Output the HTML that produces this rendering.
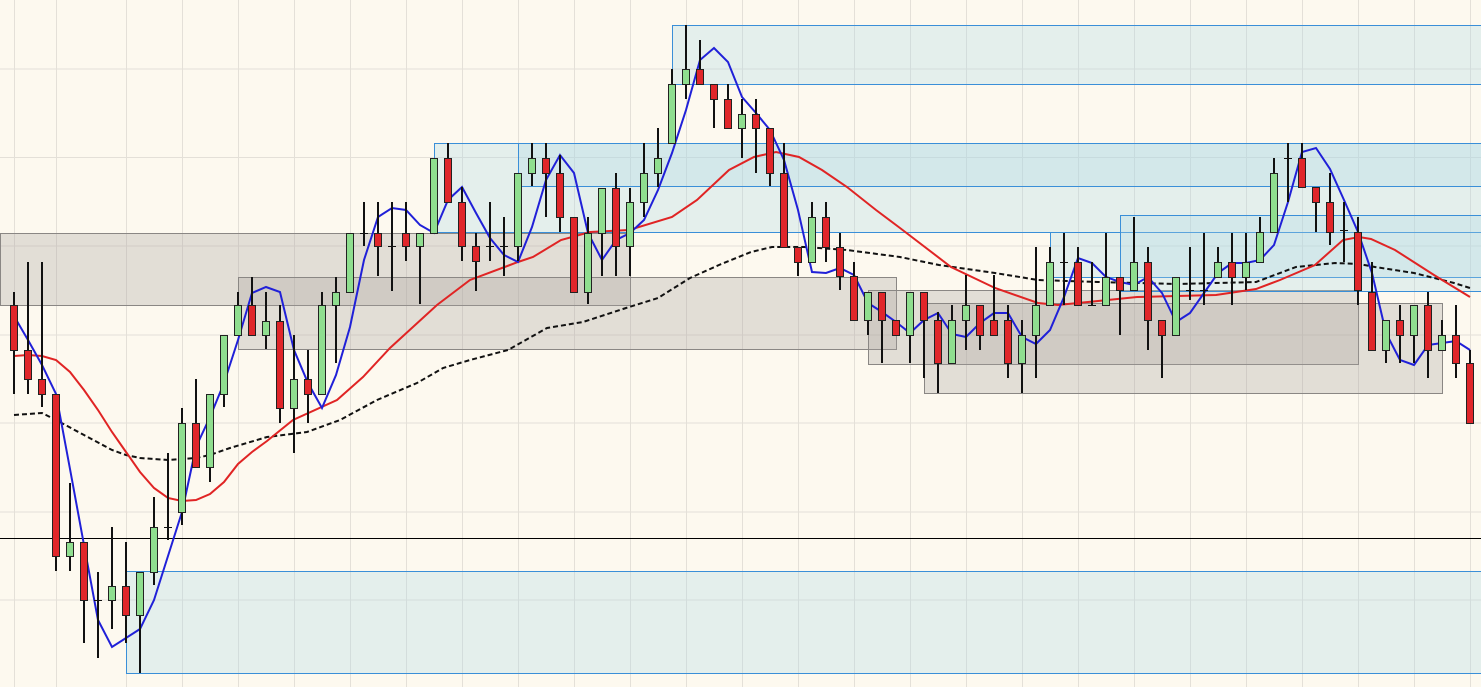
<!DOCTYPE html>
<html><head><meta charset="utf-8"><style>
html,body{margin:0;padding:0;background:#fdf9ef;}
svg{display:block;}
</style></head><body>
<svg id="c" width="1481" height="687" xmlns="http://www.w3.org/2000/svg"></svg>
<script>
const S=document.getElementById('c');let h='';
h+='<rect width="1481" height="687" fill="#fdf9ef"/>';
let vx=[14.5,56.5];for(let x=126.5;x<1481;x+=56)vx.push(x);
vx.forEach(x=>h+=`<line x1="${x}" y1="0" x2="${x}" y2="687" stroke="#e4e0d8" stroke-width="1"/>`);
[69,157.5,246,335,423,512,600].forEach(y=>h+=`<line x1="0" y1="${y}" x2="1481" y2="${y}" stroke="#e4e0d8" stroke-width="1"/>`);
[[0,233,630,305],[238,277,896,349],[868,290,1358,364],[924,303,1442,393]].forEach(b=>{
h+=`<rect x="${b[0]+.5}" y="${b[1]+.5}" width="${b[2]-b[0]}" height="${b[3]-b[1]}" fill="rgba(169,163,158,0.31)" stroke="#8a8784" stroke-width="1"/>`;});
[[126,571,1490,673],[672,25,1490,84],[434,143,1490,232],[518,143,1490,186],[1050,232,1490,277],[1120,215,1490,291]].forEach(b=>{
h+=`<rect x="${b[0]+.5}" y="${b[1]+.5}" width="${b[2]-b[0]}" height="${b[3]-b[1]}" fill="rgba(173,216,230,0.3)" stroke="#3a8fd8" stroke-width="1"/>`;});
h+='<line x1="0" y1="538.5" x2="1481" y2="538.5" stroke="#000" stroke-width="1"/>';
function pl(p,st){h+=`<polyline fill="none" points="${p.map(q=>q.join(',')).join(' ')}" ${st}/>`;}
pl([[14,415],[28,414],[42,413],[56,420],[84,435],[112,450],[126,455],[140,458],[168,460],[196,458],[210,455],[230,448],[267,437],[307,432],[340,420],[377,400],[417,383],[443,368],[470,360],[508,350],[547,328],[583,322],[626,308],[658,298],[690,278],[719,265],[751,252],[772,247],[804,247],[847,250],[900,257],[939,265],[995,273],[1038,280],[1098,282],[1177,284],[1256,282],[1296,267],[1335,263],[1359,264],[1375,267],[1414,273],[1454,283],[1470,288]],'stroke="#111" stroke-width="2" stroke-dasharray="5,3"');
pl([[14,356],[28,355],[42,356],[56,360],[70,372],[84,390],[98,410],[112,432],[126,452],[140,472],[154,488],[168,498],[182,501],[196,500],[210,494],[224,482],[238,464],[252,452],[267,441],[293,420],[337,400],[363,377],[390,348],[437,305],[470,280],[518,262],[533,257],[561,240],[590,232],[629,230],[672,217],[697,200],[729,170],[754,157],[776,152],[799,157],[822,170],[847,187],[876,210],[900,228],[951,267],[995,288],[1038,303],[1058,305],[1098,301],[1137,297],[1216,295],[1256,289],[1280,280],[1315,265],[1343,240],[1359,237],[1371,239],[1395,250],[1434,275],[1470,297]],'stroke="#e02424" stroke-width="2"');
const B=[316,340,365,394,469,545,620,647,638,629,600,556,512,447,417,383,340,293,287,292,350,383,408,375,327,260,217,208,210,225,233,200,187,213,238,255,262,227,180,155,173,233,260,240,233,220,190,153,110,60,48,62,97,113,130,160,210,272,273,268,275,303,312,322,333,320,313,334,337,323,313,313,337,344,330,297,258,263,277,282,285,277,293,322,313,293,273,263,263,260,245,202,152,148,169,200,232,273,333,360,365,345,343,341,350];
pl(B.map((y,i)=>[14+14*i,y]),'stroke="#2020d8" stroke-width="2"');
const C=[[292,305,350,394,'r'],[262,350,379,394,'r'],[262,379,394,407,'r'],[394,394,556,571,'r'],[483,542,556,571,'g'],[542,542,600,643,'r'],[572,600,601,658,'d'],[527,586,600,629,'g'],[542,586,615,643,'r'],[572,572,615,673,'g'],[497,527,572,585,'g'],[453,527,528,540,'d'],[408,423,512,525,'g'],[379,423,467,467,'r'],[394,394,467,482,'g'],[335,335,394,407,'g'],[292,305,335,335,'g'],[277,305,335,335,'r'],[292,321,335,349,'g'],[305,321,408,423,'r'],[335,379,408,453,'g'],[350,379,394,423,'r'],[292,305,394,394,'g'],[277,292,305,363,'g'],[233,233,292,292,'g'],[202,233,234,246,'d'],[202,233,246,276,'r'],[202,246,247,291,'d'],[202,233,246,261,'r'],[233,233,246,304,'g'],[158,158,233,233,'g'],[143,158,202,202,'r'],[187,202,246,261,'r'],[233,246,261,291,'r'],[202,246,247,261,'d'],[217,246,247,276,'d'],[173,173,246,261,'g'],[143,158,173,186,'g'],[143,158,173,217,'r'],[155,173,217,232,'r'],[217,217,292,292,'r'],[217,233,292,304,'g'],[188,188,233,276,'g'],[173,188,246,276,'r'],[188,202,246,276,'g'],[143,173,202,217,'g'],[128,158,173,187,'g'],[69,84,143,143,'g'],[25,69,84,99,'g'],[40,69,84,84,'r'],[84,84,99,128,'r'],[84,99,128,128,'r'],[99,114,128,158,'g'],[99,114,128,173,'r'],[128,128,173,186,'r'],[143,173,247,247,'r'],[247,247,262,276,'r'],[202,217,262,262,'g'],[202,217,247,262,'r'],[233,247,276,290,'r'],[262,276,320,320,'r'],[292,292,320,335,'g'],[292,292,320,363,'r'],[320,320,335,335,'r'],[292,292,335,363,'g'],[292,292,320,378,'r'],[312,320,363,393,'r'],[305,320,363,363,'g'],[275,305,320,350,'g'],[305,305,335,350,'r'],[275,320,335,335,'r'],[305,320,363,378,'r'],[320,335,363,393,'g'],[247,305,335,378,'g'],[247,262,305,305,'g'],[233,262,263,305,'d'],[247,262,305,305,'r'],[262,305,306,306,'d'],[233,277,305,305,'g'],[277,277,290,335,'r'],[217,262,290,290,'g'],[247,262,320,350,'r'],[320,320,335,378,'r'],[277,277,335,335,'g'],[247,290,291,300,'d'],[233,290,291,305,'d'],[247,262,277,277,'g'],[233,262,277,305,'r'],[233,262,277,290,'g'],[217,232,262,262,'g'],[158,173,232,232,'g'],[143,158,159,202,'d'],[143,158,187,187,'r'],[187,187,202,232,'r'],[173,202,232,245,'r'],[202,230,231,262,'d'],[217,232,290,305,'r'],[262,292,350,350,'r'],[320,320,350,363,'g'],[305,320,335,363,'r'],[305,305,335,363,'g'],[292,305,350,378,'r'],[320,335,350,350,'g'],[305,335,363,378,'r'],[350,363,423,423,'r']];
C.forEach((c,i)=>{const x=14+14*i;
h+=`<line x1="${x}" y1="${c[0]}" x2="${x}" y2="${c[3]}" stroke="#111" stroke-width="2"/>`;
if(c[4]=='d'){h+=`<line x1="${x-4}" y1="${c[1]+.5}" x2="${x+4}" y2="${c[1]+.5}" stroke="#111" stroke-width="1"/>`;}
else{h+=`<rect x="${x-3.5}" y="${c[1]+.5}" width="7" height="${c[2]-c[1]}" fill="${c[4]=='g'?'#8fde8f':'#e0262a'}" stroke="#222" stroke-width="1"/>`;}
});
S.innerHTML=h;
</script>
</body></html>
